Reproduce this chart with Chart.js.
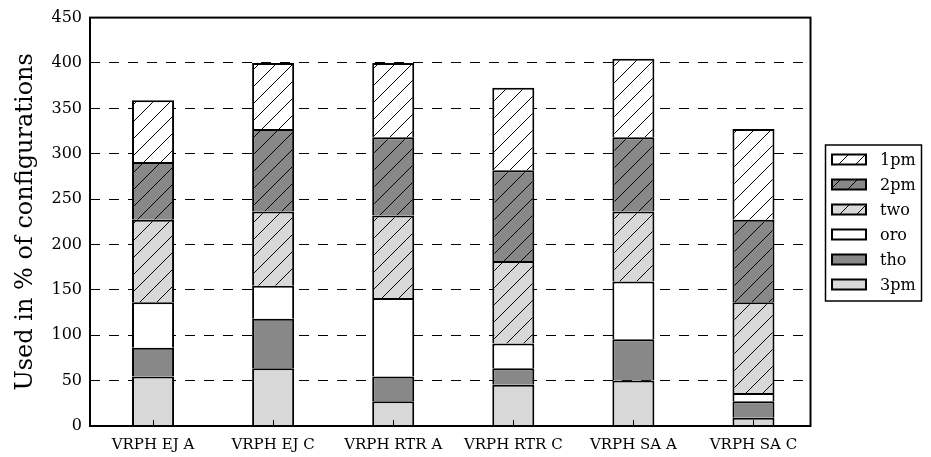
<!DOCTYPE html>
<html>
<head>
<meta charset="utf-8">
<title>Configuration usage</title>
<script src="https://cdn.jsdelivr.net/npm/chart.js@4/dist/chart.umd.min.js"></script>
<style>
  html, body { margin: 0; padding: 0; background: #fff; }
  canvas { display: block; }
</style>
</head>
<body>
<canvas id="chart" width="931" height="457"></canvas>
<script>
// Solver variants along the x axis
const categories = ['VRPH EJ A', 'VRPH EJ C', 'VRPH RTR A', 'VRPH RTR C', 'VRPH SA A', 'VRPH SA C'];

// Share (%) of configurations using each component, per variant
const pm3 = [54.5, 63.6, 27.3, 45.5, 50.0, 9.1];
const tho = [31.8, 54.5, 27.3, 18.2, 45.5, 18.2];
const oro = [50.0, 36.4, 86.4, 27.3, 63.6, 9.1];
const two = [90.9, 81.8, 90.9, 90.9, 77.3, 100.0];
const pm2 = [63.6, 90.9, 86.4, 100.0, 81.8, 90.9];
const pm1 = [68.2, 72.7, 81.8, 90.9, 86.4, 100.0];

// Stacking order, bottom to top
const seriesNames = ['3pm', 'tho', 'oro', 'two', '2pm', '1pm'];
const seriesValues = [pm3, tho, oro, two, pm2, pm1];

const yTicks = [0, 50, 100, 150, 200, 250, 300, 350, 400, 450];

// Appearance of each series (same order as seriesNames)
const LIGHT = '#d8d8d8';
const DARK = '#888888';
const WHITE = '#ffffff';
const seriesLook = [
  { fill: LIGHT, hatch: false },
  { fill: DARK,  hatch: false },
  { fill: WHITE, hatch: false },
  { fill: LIGHT, hatch: true },
  { fill: DARK,  hatch: true },
  { fill: WHITE, hatch: true }
];

const FONT = 'DejaVu Serif';
Chart.defaults.font.family = FONT;
Chart.defaults.color = '#000';

const canvas = document.getElementById('chart');
const ctx = canvas.getContext('2d');

// Diagonal "/" hatch over a flat fill
function hatchPattern(bg) {
  const s = 17;
  const tile = document.createElement('canvas');
  tile.width = s; tile.height = s;
  const g = tile.getContext('2d');
  g.fillStyle = bg;
  g.fillRect(0, 0, s, s);
  g.strokeStyle = '#000';
  g.lineWidth = 1;
  g.beginPath();
  g.moveTo(0, s); g.lineTo(s, 0);
  g.moveTo(-2, 2); g.lineTo(2, -2);
  g.moveTo(s - 2, s + 2); g.lineTo(s + 2, s - 2);
  g.stroke();
  return ctx.createPattern(tile, 'repeat');
}

// Bars sit at i..i+0.35 on an x range of -0.35..5.65, labelled at their centres
const BAR_W = 0.35;
const xPos = categories.map((_, i) => i + BAR_W / 2);

const datasets = seriesNames.map((name, k) => ({
  label: name,
  data: seriesValues[k].map((v, i) => ({ x: xPos[i], y: v })),
  backgroundColor: seriesLook[k].hatch ? hatchPattern(seriesLook[k].fill) : seriesLook[k].fill,
  borderColor: '#000',
  borderWidth: 2,
  categoryPercentage: 1,
  barPercentage: BAR_W
}));

// Closed axes frame plus inward tick marks on the bottom axis
const frameAndTicks = {
  id: 'frameAndTicks',
  afterDraw(chart) {
    const { ctx: c, chartArea: a, scales: { x } } = chart;
    c.save();
    c.strokeStyle = '#000';
    c.lineWidth = 1;
    x.ticks.forEach(t => {
      const px = Math.round(x.getPixelForValue(t.value)) + 0.5;
      c.beginPath();
      c.moveTo(px, a.bottom);
      c.lineTo(px, a.bottom - 6);
      c.stroke();
    });
    c.lineWidth = 2;
    c.strokeRect(a.left, a.top, a.right - a.left, a.bottom - a.top);
    c.restore();
  }
};

// Boxed legend to the right of the axes, top entry = top of the stack
const boxLegend = {
  id: 'boxLegend',
  afterDraw(chart, args, o) {
    const c = chart.ctx;
    c.save();
    c.fillStyle = '#fff';
    c.fillRect(o.x, o.y, o.w, o.h);
    c.strokeStyle = '#000';
    c.lineWidth = 1.5;
    c.strokeRect(o.x, o.y, o.w, o.h);
    const items = chart.data.datasets.slice().reverse();
    c.font = o.fontSize + 'px "' + FONT + '"';
    c.textBaseline = 'middle';
    items.forEach((ds, k) => {
      const cy = o.y + o.firstRow + k * o.rowGap;
      const bx = o.x + o.swatchX;
      const by = cy - o.swatchH / 2;
      c.fillStyle = ds.backgroundColor;
      c.fillRect(bx, by, o.swatchW, o.swatchH);
      c.lineWidth = 2;
      c.strokeRect(bx, by, o.swatchW, o.swatchH);
      c.fillStyle = '#000';
      c.fillText(ds.label, o.x + o.textX, cy + 1);
    });
    c.restore();
  }
};

new Chart(ctx, {
  type: 'bar',
  data: { datasets },
  plugins: [frameAndTicks, boxLegend],
  options: {
    responsive: false,
    animation: false,
    devicePixelRatio: 1,
    layout: { padding: { left: 0, top: 17, right: 120.5, bottom: 0 } },
    plugins: {
      legend: { display: false },
      tooltip: { enabled: false },
      boxLegend: {
        x: 825.5, y: 145, w: 96, h: 156,
        firstRow: 14.5, rowGap: 25,
        swatchX: 6.5, swatchW: 34, swatchH: 10,
        textX: 54.5, fontSize: 16
      }
    },
    scales: {
      x: {
        type: 'linear',
        stacked: true,
        offset: false,
        min: -BAR_W,
        max: categories.length - BAR_W,
        grid: { display: false, drawTicks: false, offset: false },
        border: { display: false },
        afterBuildTicks(scale) {
          scale.ticks = xPos.map(v => ({ value: v }));
        },
        ticks: {
          autoSkip: false,
          maxRotation: 0,
          padding: 10,
          font: { size: 15 },
          callback: (v, i) => categories[i]
        },
        afterFit(scale) { scale.height = 31; }
      },
      y: {
        stacked: true,
        min: yTicks[0],
        max: yTicks[yTicks.length - 1],
        z: 1,
        afterBuildTicks(scale) {
          scale.ticks = yTicks.map(v => ({ value: v }));
        },
        grid: { color: '#000', lineWidth: 1, drawTicks: false },
        border: { display: false, dash: [10, 9] },
        ticks: { padding: 8, font: { size: 16 } },
        title: {
          display: true,
          text: 'Used in % of configurations',
          font: { size: 24, lineHeight: 1.2 },
          padding: { top: 11, bottom: 0 }
        },
        afterFit(scale) { scale.width = 90; }
      }
    }
  }
});
</script>
</body>
</html>
